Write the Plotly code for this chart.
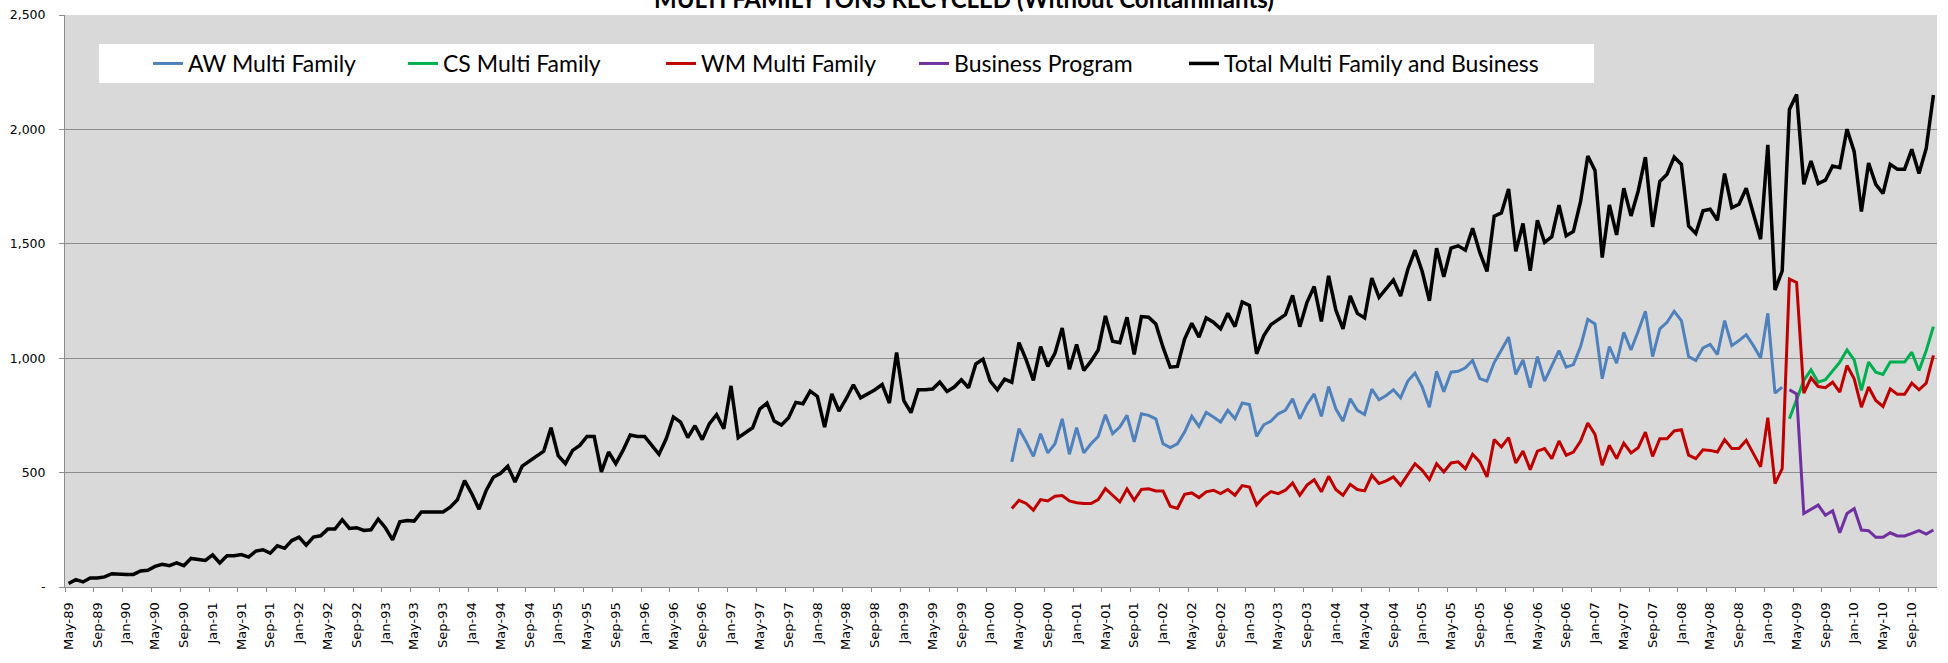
import plotly.graph_objects as go
import pandas as pd

# ---------------- data ----------------
months = pd.date_range("1989-05-01", periods=260, freq="MS")
categories = [d.strftime("%b-%y") for d in months]
tick_labels = categories[::4]

total_start = "May-89"
total_values = [
    15, 32, 22, 39, 39, 44, 58, 55, 55, 55, 70, 73, 90, 99, 93, 105, 93, 125, 119, 116,
    140, 105, 137, 137, 142, 131, 157, 163, 148, 180, 169, 203, 218, 183, 218, 224, 253, 253, 294, 256,
    259, 247, 250, 297, 259, 206, 285, 291, 288, 328, 328, 328, 328, 349, 381, 465, 407, 340, 422, 480,
    497, 528, 459, 528, 551, 571, 594, 696, 574, 539, 597, 619, 658, 658, 503, 590, 539, 597, 664, 658,
    658, 619, 580, 648, 743, 721, 653, 705, 644, 714, 753, 692, 879,
    653, 673, 696, 778, 804, 725, 708, 740, 807, 801, 856, 833, 699, 844, 769, 823, 884, 827, 844, 862,
    885, 804, 1025, 815, 762, 862, 862, 865, 895, 855, 874, 906, 871, 975, 996, 900, 862,
    908, 895, 1068, 993, 903, 1051, 964, 1022, 1132, 952, 1060, 946, 987, 1036, 1185, 1074, 1068, 1179, 1016, 1182,
    1179, 1150, 1048, 961, 964, 1084, 1153, 1092, 1176, 1157, 1128, 1196, 1138, 1246, 1231, 1019, 1099, 1147, 1167, 1190,
    1275, 1138, 1244, 1313, 1161, 1360, 1211, 1128, 1272, 1196, 1176, 1350, 1266, 1307, 1342, 1272, 1388, 1472, 1379, 1251,
    1481, 1356, 1481, 1491, 1472, 1568, 1462, 1379, 1621, 1635,
    1740, 1467, 1589, 1382, 1603, 1506, 1531, 1669, 1535, 1554, 1685, 1884, 1821, 1440, 1670, 1539, 1743, 1622, 1731, 1879,
    1574, 1772, 1804, 1879, 1847, 1578, 1545, 1644, 1651, 1603, 1807, 1658, 1673, 1743, 1629, 1520, 1932, 1298, 1382, 2087,
    2153, 1760, 1862, 1763, 1778, 1840, 1833, 2001, 1903, 1641, 1853, 1760, 1720, 1847, 1826, 1826, 1913, 1807, 1917, 2150,
]

aw_start = "Apr-00"
aw_values = [
    547, 692, 634, 571, 670, 586, 626, 735, 580, 696, 586, 626, 658, 753, 670, 699, 750, 634, 757, 750,
    735, 626, 609, 626, 677, 746, 702, 763, 743, 721, 772, 735, 804, 798, 658, 709, 725, 757, 772, 823,
    735, 798, 844, 746, 876, 779, 725, 823, 772, 754, 865, 818, 837, 862, 827, 900, 935, 874, 786, 943,
    853, 939, 943, 958, 990, 911, 900, 981, 1036,
    1092, 929, 993, 871, 1007, 900, 964, 1033, 961, 972, 1051, 1170, 1150, 910, 1051, 978, 1113, 1036, 1118, 1205,
    1007, 1128, 1157, 1205, 1164, 1007, 990, 1045, 1060, 1016, 1164, 1055, 1077, 1103, 1055, 1001, 1196, 847, 874,
]

wm_start = "Apr-00"
wm_values = [
    343, 379, 365, 336, 382, 376, 397, 400, 376, 368, 365, 365, 382, 430, 401, 372, 429, 379, 426, 429,
    420, 420, 353, 343, 405, 411, 391, 416, 423, 408, 426, 401, 443, 437, 359, 394, 417, 408, 423, 455,
    401, 445, 469, 416, 484, 426, 401, 449, 426, 420, 488, 452, 464, 481, 445, 493, 539, 510, 469, 539,
    503, 542, 547, 517, 580, 547, 481, 644, 612,
    653, 542, 594, 513, 594, 605, 561, 638, 576, 590, 638, 717, 667, 532, 619, 561, 629, 586, 609, 677,
    571, 648, 648, 682, 687, 576, 561, 600, 597, 590, 644, 605, 605, 641, 583, 525, 740, 452, 517, 1346,
    1331, 847, 914, 876, 871, 895, 852, 968, 910, 786, 874, 815, 789, 866, 842, 842, 891, 862, 891, 1012,
]

cs_start = "Apr-09"
cs_values = [735, 815, 903, 949, 895, 906, 943, 983, 1036, 993, 859, 983, 939, 929, 983, 983, 983, 1026, 946, 1033, 1138]

business_start = "Apr-09"
business_values = [862, 844, 321, 339, 358, 314, 333, 237, 321, 343, 249, 246, 217, 217, 237, 223, 223, 234, 246, 231, 249]

series_names = ["AW Multi Family", "CS Multi Family", "WM Multi Family", "Business Program",
                "Total Multi Family and Business"]
series_colors = ["#4F81BD", "#00B050", "#C00000", "#7030A0", "#000000"]

y_tick_vals = [0, 500, 1000, 1500, 2000, 2500]
y_tick_text = ["-", "500", "1,000", "1,500", "2,000", "2,500"]


def full_series(start, vals):
    i0 = categories.index(start)
    out = [None] * len(categories)
    for k, v in enumerate(vals):
        out[i0 + k] = v
    return out


series = [
    full_series(aw_start, aw_values),
    full_series(cs_start, cs_values),
    full_series(wm_start, wm_values),
    full_series(business_start, business_values),
    full_series(total_start, total_values),
]

# ---------------- figure ----------------
W, H = 1948, 663
ML, MR, MT, MB = 65, 11, 15, 76
PW, PH = W - ML - MR, H - MT - MB

fig = go.Figure()
legend_ids = ["legend", "legend2", "legend3", "legend4", "legend5"]
text_x = [189, 444, 702, 955, 1225]
for name, col, ys, lid in zip(series_names, series_colors, series, legend_ids):
    fig.add_trace(go.Scatter(
        x=categories, y=ys, mode="lines", name=name,
        line=dict(color=col, width=3.5 if col == "#000000" else 3),
        connectgaps=False, legend=lid, showlegend=True,
    ))

grid = "#8C8C8C"
layout_legends = {}
for lid, tx in zip(legend_ids, text_x):
    layout_legends[lid] = dict(
        x=(tx - 41 - ML) / PW, xref="paper", xanchor="left",
        y=(MT + PH - 63.5) / PH, yref="paper", yanchor="middle",
        orientation="h", bgcolor="rgba(0,0,0,0)", borderwidth=0,
        font=dict(family="Lato", size=23, color="#000000"),
        itemwidth=30,
    )

fig.update_layout(
    width=W, height=H,
    margin=dict(l=ML, r=MR, t=MT, b=MB, pad=0, autoexpand=False),
    paper_bgcolor="#FFFFFF",
    plot_bgcolor="#D9D9D9",
    font=dict(family="DejaVu Sans", size=13, color="#000000"),
    title=dict(
        text="<b>MULTI FAMILY TONS RECYCLED (Without Contaminants)</b>",
        x=964 / W, xanchor="center", xref="container",
        y=1.0, yanchor="middle", yref="container",
        font=dict(family="Lato", size=24, color="#000000"),
        automargin=False,
    ),
    xaxis=dict(
        type="category",
        range=[-0.5, len(categories) - 0.5],
        tickmode="array", tickvals=tick_labels, ticktext=tick_labels,
        tickson="boundaries", ticks="outside", ticklen=4, tickcolor=grid,
        tickangle=-90, tickfont=dict(family="DejaVu Sans", size=13),
        ticklabelstandoff=9,
        showgrid=False, showline=True, linecolor=grid, linewidth=1,
        zeroline=False, fixedrange=True, automargin=False,
    ),
    yaxis=dict(
        range=[0, 2500], tickmode="array", tickvals=y_tick_vals, ticktext=y_tick_text,
        ticks="outside", ticklen=5, tickcolor=grid,
        showgrid=True, gridcolor=grid, gridwidth=1,
        showline=True, linecolor=grid, linewidth=1, zeroline=False,
        tickfont=dict(family="DejaVu Sans", size=12.5),
        ticklabelstandoff=11, automargin=False, fixedrange=True,
    ),
    shapes=[dict(
        type="rect", xref="paper", yref="paper",
        x0=(99 - ML) / PW, x1=(1594 - ML) / PW,
        y0=(MT + PH - 83) / PH, y1=(MT + PH - 44) / PH,
        fillcolor="#FFFFFF", line=dict(width=0), layer="between",
    )],
    showlegend=True,
    **layout_legends,
)

fig.write_html("out.html", config={"displayModeBar": False},
               post_script="document.body.style.margin='0';")
